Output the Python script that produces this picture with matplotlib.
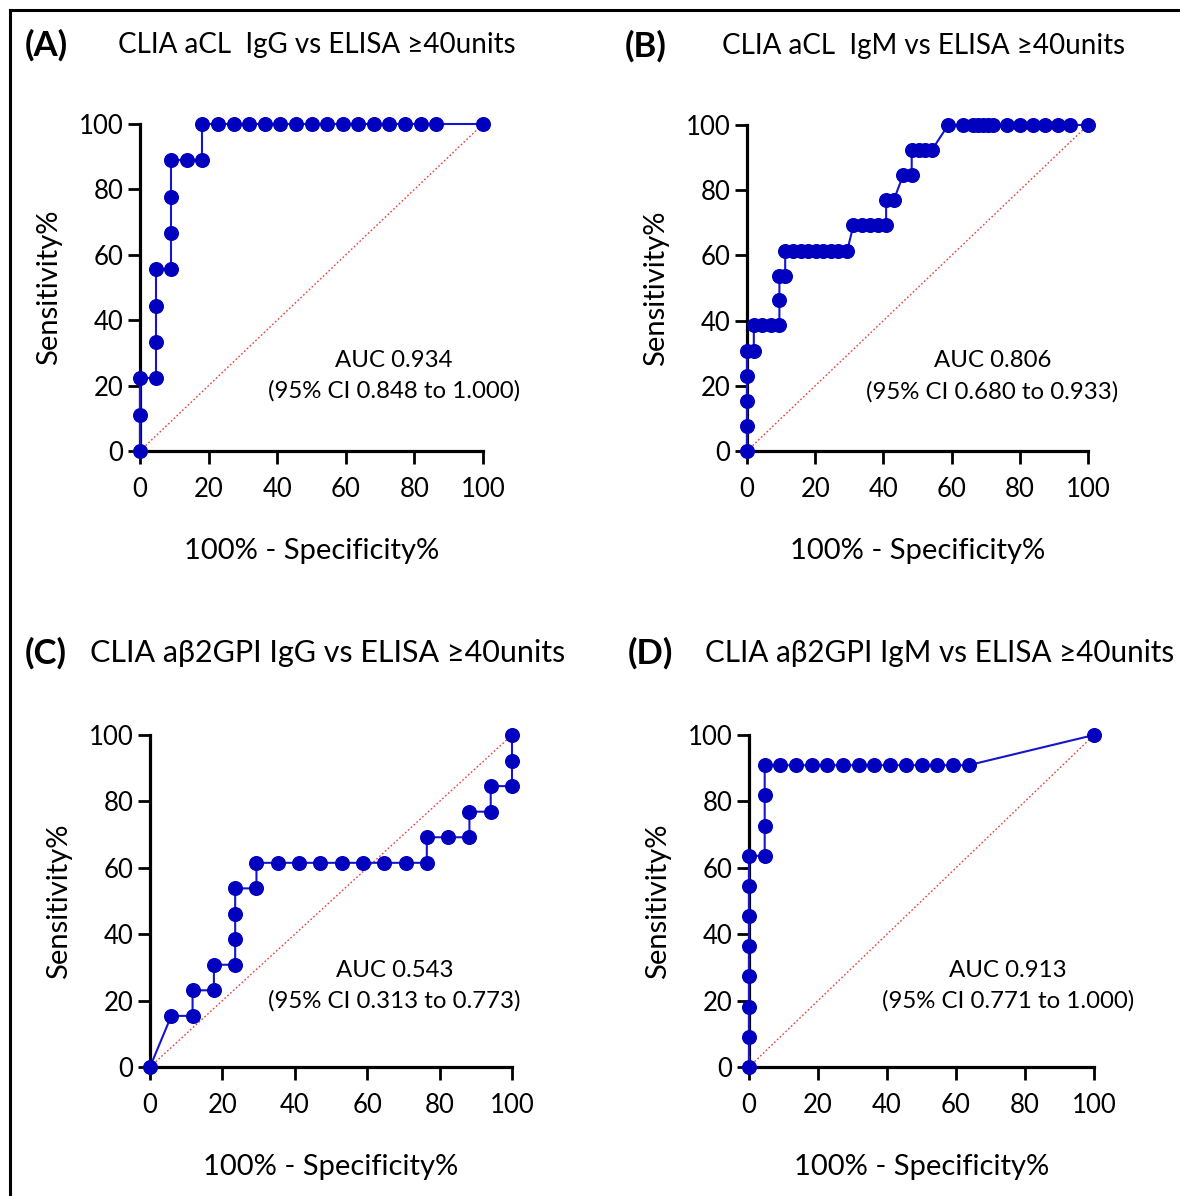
import matplotlib
matplotlib.use("Agg")
import matplotlib.pyplot as plt
from matplotlib.lines import Line2D

plt.rcParams['font.family'] = ['Lato', 'DejaVu Sans']

# ---------------- data ----------------
# Panel A: CLIA aCL IgG
a_x = [0, 0, 0, 4.55, 4.55, 4.55, 4.55, 9.09, 9.09, 9.09, 9.09, 13.64, 18.18,
       18.18, 22.73, 27.27, 31.82, 36.36, 40.91, 45.45, 50.0, 54.55, 59.09,
       63.64, 68.18, 72.73, 77.27, 81.82, 86.36, 100]
a_y = [0, 11.1, 22.2, 22.2, 33.3, 44.4, 55.6, 55.6, 66.7, 77.8, 88.9, 88.9, 88.9,
       100, 100, 100, 100, 100, 100, 100, 100, 100, 100,
       100, 100, 100, 100, 100, 100, 100]

# Panel B: CLIA aCL IgM
b_x = [0, 0, 0, 0, 0, 2.0, 2.0, 4.5, 7.0, 9.5, 9.5, 9.5, 11.2, 11.2,
       13.4, 15.7, 17.9, 20.1, 22.3, 24.6, 26.8, 29.4,
       31.2, 33.6, 36.0, 38.4, 40.8, 40.8, 43.0, 45.8, 48.3, 48.3, 50.3, 52.3, 54.2,
       59.0, 63.4, 66.3, 67.8, 69.3, 70.8, 72.2, 76.2, 80.1, 84.0, 87.4, 91.3, 94.7, 100]
b_y = [0, 7.7, 15.4, 23.1, 30.8, 30.8, 38.5, 38.5, 38.5, 38.5, 46.2, 53.8, 53.8, 61.5,
       61.5, 61.5, 61.5, 61.5, 61.5, 61.5, 61.5, 61.5,
       69.2, 69.2, 69.2, 69.2, 69.2, 76.9, 76.9, 84.6, 84.6, 92.3, 92.3, 92.3, 92.3,
       100, 100, 100, 100, 100, 100, 100, 100, 100, 100, 100, 100, 100, 100]

# Panel C: CLIA ab2GPI IgG
c_x = [0, 5.88, 11.76, 11.76, 17.65, 17.65, 23.53, 23.53, 23.53, 23.53, 29.41, 29.41,
       35.29, 41.18, 47.06, 52.94, 58.82, 64.71, 70.59, 76.47, 76.47, 82.35, 88.24,
       88.24, 94.12, 94.12, 100, 100, 100]
c_y = [0, 15.4, 15.4, 23.1, 23.1, 30.8, 30.8, 38.5, 46.2, 53.8, 53.8, 61.5,
       61.5, 61.5, 61.5, 61.5, 61.5, 61.5, 61.5, 61.5, 69.2, 69.2, 69.2,
       76.9, 76.9, 84.6, 84.6, 92.3, 100]

# Panel D: CLIA ab2GPI IgM
d_x = [0, 0, 0, 0, 0, 0, 0, 0, 4.55, 4.55, 4.55, 4.55, 9.09, 13.64, 18.18, 22.73,
       27.27, 31.82, 36.36, 40.91, 45.45, 50.0, 54.55, 59.09, 63.64, 100]
d_y = [0, 9.1, 18.2, 27.3, 36.4, 45.5, 54.5, 63.6, 63.6, 72.7, 81.8, 90.9, 90.9, 90.9,
       90.9, 90.9, 90.9, 90.9, 90.9, 90.9, 90.9, 90.9, 90.9, 90.9, 90.9, 100]

panel_letters = ['(A)', '(B)', '(C)', '(D)']
panel_titles = ['CLIA aCL  IgG vs ELISA \u226540units',
                'CLIA aCL  IgM vs ELISA \u226540units',
                'CLIA a\u03b22GPI IgG vs ELISA \u226540units',
                'CLIA a\u03b22GPI IgM vs ELISA \u226540units']
auc_text = ['AUC 0.934\n(95% CI 0.848 to 1.000)',
            'AUC 0.806\n(95% CI 0.680 to 0.933)',
            'AUC 0.543\n(95% CI 0.313 to 0.773)',
            'AUC 0.913\n(95% CI 0.771 to 1.000)']
ticks = [0, 20, 40, 60, 80, 100]
xlabel = '100% - Specificity%'
ylabel = 'Sensitivity%'

# ---------------- layout ----------------
W, H = 1180, 1196
fig = plt.figure(figsize=(W / 100, H / 100), dpi=100)

def px_rect(l, r, t, b):
    return [l / W, 1 - b / H, (r - l) / W, (b - t) / H]

rects = [px_rect(140, 483, 124, 451), px_rect(747, 1088, 125, 451),
         px_rect(150, 512, 735, 1067), px_rect(749, 1094, 735, 1067)]
auc_pos = [(74, 23), (72, 23), (67.5, 24.5), (75, 24.5)]
letter_pos = [(25, 45), (625, 46), (25, 653), (628, 653)]
title_pos = [(118, 45), (722, 46), (90, 653), (705, 653)]
title_size = [20, 20, 22, 21.3]

data = [(a_x, a_y), (b_x, b_y), (c_x, c_y), (d_x, d_y)]
blue = '#0000BE'

for i, (xs, ys) in enumerate(data):
    ax = fig.add_axes(rects[i])
    ax.plot([0, 100], [0, 100], linestyle=(0, (1.2, 1.6)), color='#E8403A', lw=1.0, zorder=1)
    ax.plot(xs, ys, color='#1515CC', lw=1.5, marker='o', markersize=9.8,
            markerfacecolor=blue, markeredgecolor=blue, clip_on=False, zorder=3)
    ax.set_xlim(0, 100)
    ax.set_ylim(0, 100)
    ax.set_xticks(ticks)
    ax.set_yticks(ticks)
    for s in ['top', 'right']:
        ax.spines[s].set_visible(False)
    for s in ['left', 'bottom']:
        ax.spines[s].set_linewidth(2.3)
    ax.tick_params(direction='out', length=9, width=2.0, labelsize=18.5)
    ax.tick_params(axis='x', pad=9.5)
    ax.tick_params(axis='y', pad=3)
    ax.set_xlabel(xlabel, fontsize=21, labelpad=26)
    ax.set_ylabel(ylabel, fontsize=21, labelpad=12)
    ax.text(auc_pos[i][0], auc_pos[i][1], auc_text[i], ha='center', va='center',
            fontsize=17.3, linespacing=1.55)
    lx, ly = letter_pos[i]
    fig.text(lx / W, 1 - ly / H, panel_letters[i], fontsize=25, fontweight='bold',
             ha='left', va='center')
    tx, ty = title_pos[i]
    fig.text(tx / W, 1 - ty / H, panel_titles[i], fontsize=title_size[i],
             ha='left', va='center')

# outer frame (top and left lines)
fig.add_artist(Line2D([10 / W, 1.0], [1 - 10 / H, 1 - 10 / H], color='black', lw=2.2,
                      transform=fig.transFigure))
fig.add_artist(Line2D([10 / W, 10 / W], [0.0, 1 - 10 / H], color='black', lw=2.2,
                      transform=fig.transFigure))

fig.savefig('out.png', dpi=100, facecolor='white')
